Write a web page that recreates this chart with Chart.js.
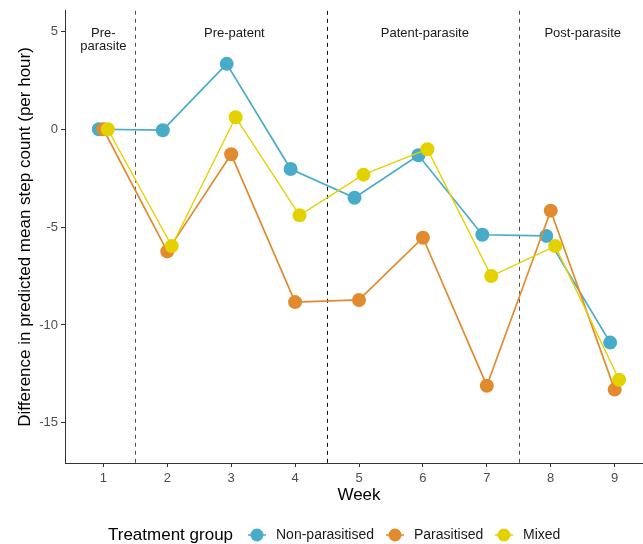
<!DOCTYPE html>
<html>
<head>
<meta charset="utf-8">
<script src="https://cdn.jsdelivr.net/npm/chart.js@4.4.1/dist/chart.umd.min.js"></script>
<style>
  html, body { margin: 0; padding: 0; background: #fff; overflow: hidden; }
  #wrap { width: 660px; height: 544px; }
</style>
</head>
<body>
<div id="wrap"><canvas id="myChart"></canvas></div>
<script>
// Weeks on the x-axis
var weeks = [1, 2, 3, 4, 5, 6, 7, 8, 9];

// Difference in predicted mean step count
var nonParasitised = [0, -0.05, 3.34, -2.03, -3.5, -1.33, -5.39, -5.45, -10.9];
var parasitised = [0, -6.24, -1.28, -8.83, -8.72, -5.54, -13.1, -4.16, -13.3];
var mixed = [0, -5.97, 0.61, -4.4, -2.32, -1.02, -7.5, -5.97, -12.8];

// Tick labels and phase labels
var yTicks = [-15, -10, -5, 0, 5];
var phaseBreaks = [1.5, 4.5, 7.5];
var phaseLabels = [['Pre-', 'parasite'], ['Pre-patent'], ['Patent-parasite'], ['Post-parasite']];
var phaseLabelX = [1, 3.05, 6.03, 8.5];

var groups = ['Non-parasitised', 'Parasitised', 'Mixed'];
var colours = ['#48acc9', '#e28b2e', '#e3d200'];
var dodge = [-0.07, 0, 0.07];  // small horizontal dodge between groups

function toPoints(vals, off) {
    return vals.map(function(v, i) { return { x: weeks[i] + off, y: v }; });
}

// Dashed phase separators + phase labels + custom ggplot-style legend
var extras = {
    id: 'extras',
    beforeDatasetsDraw: function(chart) {
        var c = chart.ctx, xs = chart.scales.x, a = chart.chartArea;
        c.save();
        c.lineWidth = 1;
        c.setLineDash([4, 4]);
        phaseBreaks.forEach(function(b, i) {
            c.strokeStyle = i === 1 ? '#111' : '#555';
            var px = Math.round(xs.getPixelForValue(b)) + 0.5;
            c.beginPath();
            c.moveTo(px, a.top);
            c.lineTo(px, a.bottom);
            c.stroke();
        });
        c.setLineDash([]);
        c.fillStyle = '#1a1a1a';
        c.font = '13px "Liberation Sans", Arial, sans-serif';
        c.textAlign = 'center';
        c.textBaseline = 'middle';
        phaseLabels.forEach(function(lines, i) {
            var px = xs.getPixelForValue(phaseLabelX[i]);
            lines.forEach(function(t, j) {
                c.fillText(t, px, 33 + j * 13);
            });
        });
        c.restore();
    },
    afterDraw: function(chart) {
        var c = chart.ctx;
        var y = 535;
        c.save();
        c.textBaseline = 'middle';
        c.textAlign = 'left';
        c.fillStyle = '#000';
        c.font = '17px "Liberation Sans", Arial, sans-serif';
        c.fillText('Treatment group', 108, y);
        var keyX = [257, 395, 504];
        c.font = '14px "Liberation Sans", Arial, sans-serif';
        groups.forEach(function(g, i) {
            c.strokeStyle = colours[i];
            c.lineWidth = 1.5;
            c.beginPath();
            c.moveTo(keyX[i] - 9, y);
            c.lineTo(keyX[i] + 9, y);
            c.stroke();
            c.fillStyle = colours[i];
            c.beginPath();
            c.arc(keyX[i], y, 6.5, 0, Math.PI * 2);
            c.fill();
            c.fillStyle = '#1a1a1a';
            c.fillText(g, keyX[i] + 19, y);
        });
        c.restore();
    }
};

var ctx = document.getElementById('myChart').getContext('2d');

var myChart = new Chart(ctx, {
    type: 'line',
    data: {
        datasets: [nonParasitised, parasitised, mixed].map(function(vals, i) {
            return {
                label: groups[i],
                data: toPoints(vals, dodge[i]),
                borderColor: colours[i],
                backgroundColor: colours[i],
                borderWidth: i === 2 ? 1.4 : 1.7,
                pointRadius: 7,
                pointHoverRadius: 7,
                pointBorderWidth: 0,
                tension: 0,
                order: 3 - i
            };
        })
    },
    options: {
        responsive: true,
        maintainAspectRatio: false,
        animation: false,
        layout: { padding: { left: 0, right: 7, top: 10, bottom: 39 } },
        scales: {
            x: {
                type: 'linear',
                min: 0.4,
                max: 9.6,
                afterBuildTicks: function(s) {
                    s.ticks = weeks.map(function(w) { return { value: w }; });
                },
                afterFit: function(s) { s.height = 42; },
                grid: { drawOnChartArea: false, tickLength: 4, color: '#333' },
                border: { color: '#333', width: 1 },
                ticks: {
                    color: '#4d4d4d',
                    font: { size: 13, family: '"Liberation Sans", Arial, sans-serif' },
                    padding: 4,
                    maxRotation: 0
                },
                title: {
                    display: true,
                    text: 'Week',
                    color: '#000',
                    font: { size: 17, family: '"Liberation Sans", Arial, sans-serif' },
                    padding: { top: 0, bottom: -1 }
                }
            },
            y: {
                min: -17.05,
                max: 6.05,
                afterBuildTicks: function(s) {
                    s.ticks = yTicks.map(function(v) { return { value: v }; });
                },
                afterFit: function(s) { s.width = 65; },
                grid: { drawOnChartArea: false, tickLength: 4, color: '#333' },
                border: { color: '#333', width: 1 },
                ticks: {
                    color: '#4d4d4d',
                    font: { size: 13, family: '"Liberation Sans", Arial, sans-serif' },
                    padding: 3
                },
                title: {
                    display: true,
                    text: 'Difference in predicted mean step count (per hour)',
                    color: '#000',
                    font: { size: 17, family: '"Liberation Sans", Arial, sans-serif' },
                    padding: { top: 15, bottom: 0 }
                }
            }
        },
        plugins: {
            legend: { display: false },
            tooltip: { enabled: false }
        }
    },
    plugins: [extras]
});
</script>
</body>
</html>
